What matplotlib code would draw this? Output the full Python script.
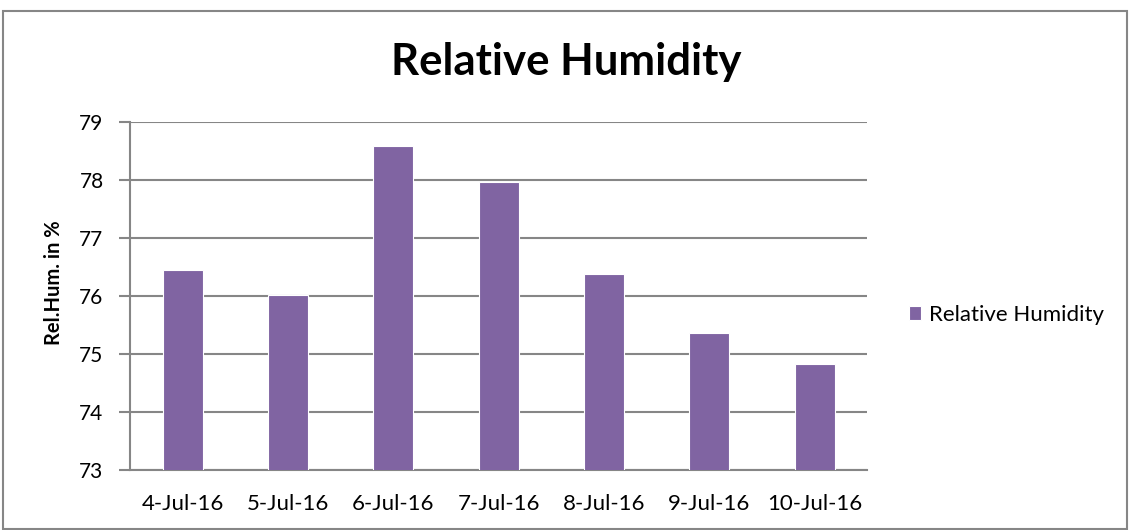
import matplotlib
matplotlib.use("Agg")
import matplotlib.pyplot as plt
from matplotlib.patches import Rectangle

# datos
fechas = ["4-Jul-16", "5-Jul-16", "6-Jul-16", "7-Jul-16", "8-Jul-16", "9-Jul-16", "10-Jul-16"]
humedad = [76.45, 76.02, 78.60, 77.98, 76.38, 75.37, 74.83]
y_ticks = [73, 74, 75, 76, 77, 78, 79]

color_barra = '#8064A2'
color_grilla = '#868686'

plt.rcParams['font.family'] = ['Lato', 'DejaVu Sans']

fig = plt.figure(figsize=(11.32, 5.30), dpi=100)
ax = fig.add_axes([0.1148, 0.1132, 0.6513, 0.6557])

x = list(range(len(fechas)))
ax.bar(x, humedad, width=0.38, color=color_barra, edgecolor='white',
       linewidth=0.8, label='Relative Humidity', zorder=3)

ax.set_xlim(-0.5, len(fechas) - 0.5)
ax.set_ylim(73, 79)
ax.set_yticks(y_ticks)
ax.set_xticks(x)
ax.set_xticklabels(fechas)

ax.grid(axis='y', color=color_grilla, linewidth=1.5, zorder=0)
ax.tick_params(axis='y', length=8, width=1.5, color=color_grilla, labelsize=15, pad=11)
ax.tick_params(axis='x', length=0, labelsize=16, pad=17)

for lado in ['top', 'right']:
    ax.spines[lado].set_visible(False)
for lado in ['left', 'bottom']:
    ax.spines[lado].set_color(color_grilla)
    ax.spines[lado].set_linewidth(1.5)

ax.set_ylabel('Rel.Hum. in %', fontsize=14.5, fontweight='bold')
ax.yaxis.set_label_coords(-0.09, 0.54)

fig.text(0.5, 1 - 75 / 530, 'Relative Humidity', ha='center', va='baseline',
         fontsize=31.5, fontweight='bold')

ax.legend(loc='center left', bbox_to_anchor=(1.057, 0.446), frameon=False,
          fontsize=16, handlelength=0.55, handleheight=0.55, handletextpad=0.35,
          borderaxespad=0, borderpad=0)

# marco del gráfico
fig.patches.append(Rectangle((0.003, 0.002), 0.993, 0.978, transform=fig.transFigure,
                             fill=False, edgecolor='#868686', linewidth=1.5))

plt.savefig('out.png', dpi=100)
